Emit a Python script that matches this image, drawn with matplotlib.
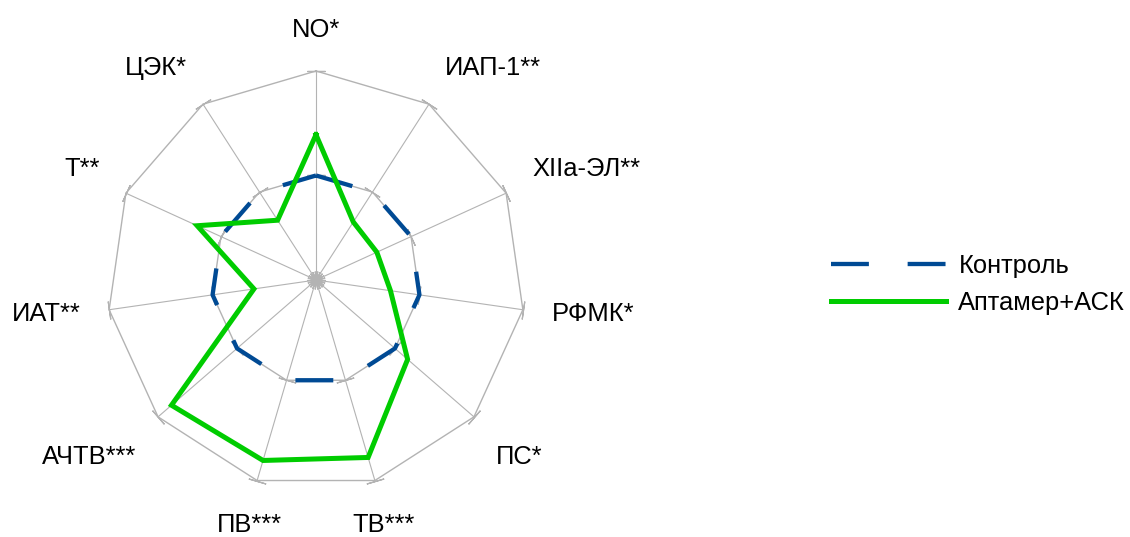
import numpy as np
import matplotlib
matplotlib.use("Agg")
import matplotlib.pyplot as plt

plt.rcParams["font.family"] = ["Liberation Sans", "DejaVu Sans"]

# categories clockwise from the top
CATEGORIES = ["NO*", "ИАП-1**", "XIIa-ЭЛ**", "РФМК*", "ПС*", "ТВ***",
              "ПВ***", "АЧТВ***", "ИАТ**", "Т**", "ЦЭК*"]
CONTROL = [1.0, 1.0, 1.0, 1.0, 1.0, 1.0, 1.0, 1.0, 1.0, 1.0, 1.0]
APTAMER_ASK = [1.39, 0.66, 0.64, 0.72, 1.16, 1.77, 1.80, 1.83, 0.60, 1.25, 0.68]
SERIES_NAMES = ["Контроль", "Аптамер+АСК"]
R_LEVELS = [0, 1, 2]

GRID = "#b3b3b3"
BLUE = "#004a94"
GREEN = "#00cc00"
FS = 18.4

n = len(CATEGORIES)
theta = np.linspace(0, 2 * np.pi, n, endpoint=False)
theta_c = np.append(theta, theta[0])

fig = plt.figure(figsize=(11.3, 5.37), dpi=100)
ax = fig.add_axes([0.0947, 0.0894, 0.3699, 0.7784], projection="polar")
ax.set_theta_zero_location("N")
ax.set_theta_direction(-1)
ax.set_ylim(0, R_LEVELS[-1])
ax.set_xticks([])
ax.set_yticks([])
ax.grid(False)
ax.spines["polar"].set_visible(False)
ax.patch.set_visible(False)

# polygon rings and spokes
for lev in R_LEVELS[1:]:
    ax.plot(theta_c, [lev] * (n + 1), color=GRID, lw=1.0, clip_on=False, zorder=1)
for t in theta:
    ax.plot([t, t], [0, R_LEVELS[-1]], color=GRID, lw=0.8, clip_on=False, zorder=1)
    # small ticks across each spoke
    ang = 90 - np.degrees(t)
    ax.plot([t] * len(R_LEVELS), R_LEVELS, linestyle="none",
            marker=(2, 2, ang), markersize=13, markeredgewidth=0.9,
            color=GRID, clip_on=False, zorder=1)

ax.plot(theta_c, CONTROL + CONTROL[:1], color=BLUE, lw=3.1,
        dashes=(8.8, 9.0), label=SERIES_NAMES[0], clip_on=False, zorder=3)
ax.plot(theta_c, APTAMER_ASK + APTAMER_ASK[:1], color=GREEN, lw=3.6,
        solid_joinstyle="miter", label=SERIES_NAMES[1], clip_on=False, zorder=4)

# category labels outside the outer ring
r_lab = 2.28
for t, name in zip(theta, CATEGORIES):
    s, c = np.sin(t), np.cos(t)
    ha = "left" if s > 0.3 else ("right" if s < -0.3 else "center")
    va = "bottom" if c > 0.3 else ("top" if c < -0.3 else "center")
    dy = 0
    if c < -0.3:
        dy = -3 if abs(s) < 0.3 else -6.5
    ax.annotate(name, xy=(t, r_lab), xytext=(0, dy), textcoords="offset points",
                ha=ha, va=va, fontsize=FS, annotation_clip=False)

fig.legend(loc="center left", bbox_to_anchor=(0.726, 0.471), frameon=False,
           fontsize=FS, handlelength=4.5, handletextpad=0.5, labelspacing=0.51,
           borderaxespad=0)

fig.savefig("out.png", dpi=100)
